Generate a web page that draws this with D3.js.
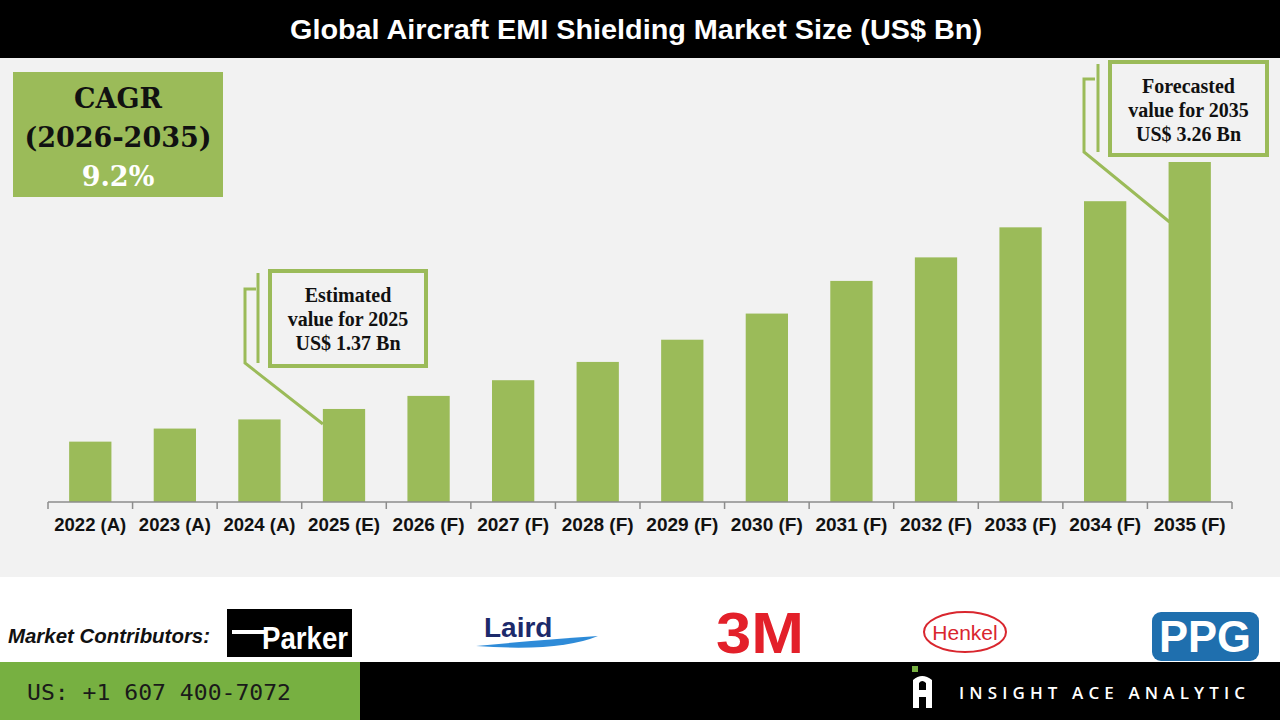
<!DOCTYPE html>
<meta charset="utf-8">
<head>
<style>
  body { margin: 0; background: #ffffff; }
  svg { display: block; }
</style>
</head>
<body>
<div id="chart"></div>
<script src="https://cdn.jsdelivr.net/npm/d3@7"></script>
<script>

// data
var years = ["2022 (A)", "2023 (A)", "2024 (A)", "2025 (E)", "2026 (F)", "2027 (F)", "2028 (F)",
             "2029 (F)", "2030 (F)", "2031 (F)", "2032 (F)", "2033 (F)", "2034 (F)", "2035 (F)"];
var marketSize = [1.12, 1.22, 1.29, 1.37, 1.47, 1.59, 1.73, 1.90, 2.10, 2.35, 2.53, 2.76, 2.96, 3.26];
var cagrLines = ["CAGR", "(2026-2035)", "9.2%"];
var estLines = ["Estimated", "value for 2025", "US$ 1.37 Bn"];
var fcLines = ["Forecasted", "value for 2035", "US$ 3.26 Bn"];

var W = 1280, H = 720;
var green = "#9bbb59";

var svg = d3.select("#chart").append("svg")
  .attr("width", W).attr("height", H);

// backgrounds
svg.append("rect").attr("width", W).attr("height", H).attr("fill", "#ffffff");
svg.append("rect").attr("x", 0).attr("y", 58).attr("width", W).attr("height", 519).attr("fill", "#f2f2f2");
svg.append("rect").attr("width", W).attr("height", 58).attr("fill", "#000000");

svg.append("text")
  .attr("x", 636).attr("y", 39)
  .attr("text-anchor", "middle")
  .attr("textLength", 692).attr("lengthAdjust", "spacingAndGlyphs")
  .style("font-family", "'Liberation Sans', Arial, sans-serif")
  .style("font-weight", "bold").style("font-size", "27px")
  .style("fill", "#ffffff")
  .text("Global Aircraft EMI Shielding Market Size (US$ Bn)");

// scales
var x = d3.scaleBand().domain(years).range([48, 1232]).paddingInner(0.5).paddingOuter(0.25);
var y = d3.scaleLinear().domain([0.658, 3.26]).range([502, 162]);

var g = svg.append("g");

g.selectAll(".bar")
  .data(years)
  .enter().append("rect")
    .attr("class", "bar")
    .attr("x", function(d) { return x(d); })
    .attr("y", function(d, i) { return y(marketSize[i]); })
    .attr("width", x.bandwidth())
    .attr("height", function(d, i) { return 502 - y(marketSize[i]); })
    .attr("fill", green);

// x axis with ticks at band edges
var axis = g.append("g").attr("transform", "translate(0,502)");
axis.append("line").attr("x1", 48).attr("x2", 1232).attr("stroke", "#8c8c8c").attr("stroke-width", 1.5);
var edges = d3.range(years.length + 1).map(function(i) { return 48 + i * 1184 / years.length; });
axis.selectAll(".tk").data(edges).enter().append("line")
  .attr("x1", function(d) { return d; }).attr("x2", function(d) { return d; })
  .attr("y1", 0).attr("y2", 7)
  .attr("stroke", "#8c8c8c").attr("stroke-width", 1.5);
axis.selectAll(".lbl").data(years).enter().append("text")
  .attr("x", function(d) { return x(d) + x.bandwidth() / 2; })
  .attr("y", 29)
  .attr("text-anchor", "middle")
  .attr("textLength", 72).attr("lengthAdjust", "spacingAndGlyphs")
  .style("font-family", "'Liberation Sans', Arial, sans-serif")
  .style("font-weight", "bold").style("font-size", "18px")
  .style("fill", "#111111")
  .text(function(d) { return d; });

// CAGR box
svg.append("rect").attr("x", 13).attr("y", 72).attr("width", 210).attr("height", 125).attr("fill", green);
svg.selectAll(".cagr").data(cagrLines).enter().append("text")
  .attr("x", 118)
  .attr("y", function(d, i) { return 108 + i * 39; })
  .attr("text-anchor", "middle")
  .style("font-family", "'DejaVu Serif', 'Liberation Serif', serif")
  .style("font-weight", "bold").style("font-size", "27px")
  .style("fill", function(d, i) { return i == 2 ? "#ffffff" : "#111111"; })
  .text(function(d) { return d; });

// callouts
function callout(bx, by, bw, bh, vx, hx0, hx1, hy, tipX, tipY, lines) {
  svg.append("line").attr("x1", vx).attr("x2", vx).attr("y1", by + 2).attr("y2", by + bh - 3)
    .attr("stroke", green).attr("stroke-width", 3);
  svg.append("polyline")
    .attr("points", [[hx1, hy], [hx0, hy], [hx0, by + bh - 3], [tipX, tipY]].map(function(p) { return p.join(","); }).join(" "))
    .attr("fill", "none").attr("stroke", green).attr("stroke-width", 3);
  svg.append("rect").attr("x", bx).attr("y", by).attr("width", bw).attr("height", bh)
    .attr("fill", "#f2f2f2").attr("stroke", green).attr("stroke-width", 4);
  svg.selectAll(null).data(lines).enter().append("text")
    .attr("x", bx + bw / 2)
    .attr("y", function(d, i) { return by + 31 + i * 24; })
    .attr("text-anchor", "middle")
    .style("font-family", "'Liberation Serif', 'DejaVu Serif', serif")
    .style("font-weight", "bold").style("font-size", "20px")
    .style("fill", "#111111")
    .text(function(d) { return d; });
}
callout(270, 271, 156, 95, 258, 245, 256, 289, x(years[3]), y(marketSize[3]) + 15, estLines);
callout(1110, 62, 157, 93, 1098, 1084, 1095, 79, x(years[13]) + 1, y(marketSize[13]) + 60, fcLines);

// market contributors band
svg.append("text").attr("x", 8).attr("y", 643)
  .attr("textLength", 202).attr("lengthAdjust", "spacingAndGlyphs")
  .style("font-family", "'Liberation Sans', Arial, sans-serif")
  .style("font-weight", "bold").style("font-style", "italic").style("font-size", "20px")
  .style("fill", "#111111")
  .text("Market Contributors:");

// Parker
svg.append("rect").attr("x", 227).attr("y", 609).attr("width", 125).attr("height", 48).attr("fill", "#000");
svg.append("rect").attr("x", 232).attr("y", 630).attr("width", 34).attr("height", 4).attr("fill", "#fff");
svg.append("text").attr("x", 262).attr("y", 649)
  .attr("textLength", 86).attr("lengthAdjust", "spacingAndGlyphs")
  .style("font-family", "'Liberation Sans Narrow', 'Liberation Sans', sans-serif")
  .style("font-weight", "bold").style("font-size", "32px").style("fill", "#fff")
  .text("Parker");

// Laird
svg.append("text").attr("x", 484).attr("y", 637)
  .style("font-family", "'Liberation Sans', Arial, sans-serif")
  .style("font-weight", "bold").style("font-size", "28px").style("fill", "#1c2a6b")
  .text("Laird");
svg.append("path")
  .attr("d", "M476,646 Q540,640 598,636 Q560,652 476,646 Z")
  .attr("fill", "#2e8bd8");

// 3M
svg.append("text").attr("x", 760).attr("y", 653)
  .attr("text-anchor", "middle")
  .attr("textLength", 88).attr("lengthAdjust", "spacingAndGlyphs")
  .style("font-family", "'Liberation Sans', Arial, sans-serif")
  .style("font-weight", "bold").style("font-size", "58px").style("fill", "#e3202a")
  .text("3M");

// Henkel
svg.append("ellipse").attr("cx", 965).attr("cy", 632).attr("rx", 41).attr("ry", 20)
  .attr("fill", "#fff").attr("stroke", "#d9262e").attr("stroke-width", 2);
svg.append("text").attr("x", 965).attr("y", 640)
  .attr("text-anchor", "middle")
  .style("font-family", "'Liberation Sans', Arial, sans-serif")
  .style("font-size", "21px").style("fill", "#d9262e")
  .text("Henkel");

// PPG
svg.append("rect").attr("x", 1152).attr("y", 612).attr("width", 107).attr("height", 49).attr("rx", 9)
  .attr("fill", "#1f6fae");
svg.append("text").attr("x", 1205).attr("y", 652)
  .attr("text-anchor", "middle")
  .attr("textLength", 92).attr("lengthAdjust", "spacingAndGlyphs")
  .style("font-family", "'Liberation Sans', Arial, sans-serif")
  .style("font-weight", "bold").style("font-size", "44px").style("fill", "#fff")
  .text("PPG");

// footer
svg.append("rect").attr("x", 0).attr("y", 662).attr("width", 360).attr("height", 58).attr("fill", "#77b041");
svg.append("rect").attr("x", 360).attr("y", 662).attr("width", 920).attr("height", 58).attr("fill", "#000");
svg.append("text").attr("x", 27).attr("y", 700)
  .attr("textLength", 264).attr("lengthAdjust", "spacingAndGlyphs")
  .style("font-family", "'DejaVu Sans Mono', monospace")
  .style("font-size", "21px").style("fill", "#1a1a1a")
  .text("US: +1 607 400-7072");

svg.append("rect").attr("x", 912).attr("y", 666).attr("width", 6).attr("height", 6).attr("fill", "#77b041");
svg.append("path")
  .attr("d", "M913,708 L913,680 Q922,672 932,680 L932,708 L926,708 L926,697 L919,697 L919,708 Z M919,690 L926,690 L926,683 Q922,679 919,683 Z")
  .attr("fill", "#fff").attr("fill-rule", "evenodd");
svg.append("text").attr("x", 959).attr("y", 699)
  .attr("textLength", 286).attr("lengthAdjust", "spacing")
  .style("font-family", "'Open Sans', 'DejaVu Sans', sans-serif")
  .style("font-weight", "600").style("font-size", "17px").style("fill", "#fff")
  .text("INSIGHT ACE ANALYTIC");

</script>
</body>
